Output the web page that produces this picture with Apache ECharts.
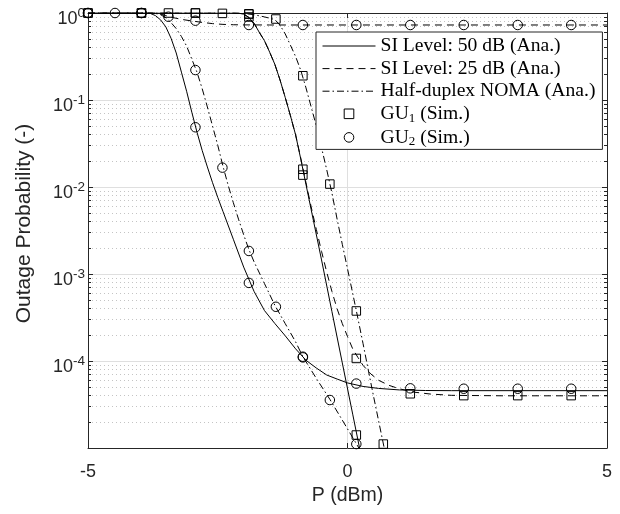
<!DOCTYPE html>
<html>
<head>
<meta charset="utf-8">
<script src="https://cdn.jsdelivr.net/npm/echarts@6/dist/echarts.min.js"></script>
<style>
html,body{margin:0;padding:0;background:#fff;}
#chart{width:620px;height:514px;}
</style>
</head>
<body>
<div id="chart"></div>
<script>
// ---------------- data ----------------
const xMin = -5, xMax = 5, xInterval = 5;
const yMin = 1e-5, yMax = 1;
const minorMultipliers = [2, 3, 4, 5, 6, 7, 8, 9];
const decadeExponents = [-5, -4, -3, -2, -1];

const legendNames = ['SI Level: 50 dB (Ana.)', 'SI Level: 25 dB (Ana.)', 'Half-duplex NOMA (Ana.)', 'GU1 (Sim.)', 'GU2 (Sim.)'];

// Analytical curves
const si50Gu2X = [-5,-4,-3.8,-3.7,-3.6,-3.5,-3.4,-3.3,-3.2,-3.1,-3.0,-2.9,-2.8,-2.7,-2.6,-2.5,-2.4,-2.2,-2.0,-1.8,-1.6,-1.4,-1.2,-1.0,-0.8,-0.6,-0.4,-0.2,0,0.3,0.6,1.0,1.5,2.0,5];
const si50Gu2Y = [1,1,0.989,0.933,0.832,0.692,0.513,0.347,0.209,0.126,0.0724,0.0427,0.0263,0.0170,0.0112,0.00759,0.00525,0.00251,0.00120,6.3e-4,3.8e-4,2.7e-4,1.95e-4,1.38e-4,1.02e-4,8.3e-5,6.9e-5,6.2e-5,5.6e-5,5.1e-5,4.84e-5,4.65e-5,4.58e-5,4.56e-5,4.56e-5];

const si50Gu1X = [-5,-2.2,-2.1,-2.0,-1.9,-1.8,-1.7,-1.6,-1.5,-1.4,-1.3,-1.2,-1.1,-1.0,-0.9,-0.8,-0.7,-0.5,-0.3,-0.1,0.1,0.3];
const si50Gu1Y = [1,1,0.995,0.97,0.89,0.76,0.60,0.48,0.355,0.257,0.170,0.107,0.0661,0.0398,0.0209,0.0107,5.5e-3,1.45e-3,3.7e-4,9.5e-5,2.45e-5,6.3e-6];

const si25Gu1X = [-5,-2.2,-2.1,-2.0,-1.9,-1.8,-1.7,-1.6,-1.5,-1.4,-1.3,-1.2,-1.1,-1.0,-0.9,-0.8,-0.7,-0.6,-0.5,-0.4,-0.3,-0.2,-0.1,0,0.1,0.2,0.3,0.45,0.6,0.8,1.0,1.3,1.6,2.0,3.0,5];
const si25Gu1Y = [1,1,0.995,0.97,0.89,0.76,0.60,0.48,0.355,0.257,0.170,0.107,0.0661,0.0398,0.0214,0.0112,5.9e-3,3.24e-3,1.82e-3,1.05e-3,6.3e-4,3.98e-4,2.69e-4,1.91e-4,1.38e-4,1.10e-4,8.9e-5,7.1e-5,6.0e-5,5.25e-5,4.79e-5,4.37e-5,4.17e-5,4.03e-5,3.98e-5,3.98e-5];

const si25Gu2X = [-5,-3.8,-3.7,-3.6,-3.5,-3.4,-3.2,-3.0,-2.8,-2.6,-2.4,-2.2,-2.0,-1.5,5];
const si25Gu2Y = [1,1,0.99,0.97,0.935,0.895,0.845,0.81,0.78,0.755,0.74,0.733,0.73,0.728,0.728];

const hdGu2X = [-5,-3.8,-3.7,-3.6,-3.5,-3.4,-3.3,-3.2,-3.1,-3.0,-2.9,-2.8,-2.7,-2.6,-2.5,-2.4,-2.3,-2.2,-2.1,-2.0,-1.9,-1.8,-1.6,-1.4,-1.2,-1.0,-0.86,-0.6,-0.34,0,0.17,0.3];
const hdGu2Y = [1,1,0.989,0.955,0.881,0.776,0.661,0.537,0.417,0.295,0.209,0.135,0.0832,0.0501,0.0302,0.0174,0.0105,0.00661,0.00427,0.00282,0.00191,0.00138,7.76e-4,4.37e-4,2.69e-4,1.66e-4,1.12e-4,6.3e-5,3.63e-5,1.66e-5,1.12e-5,8.3e-6];

const hdGu1X = [-5,-2.2,-2.0,-1.8,-1.6,-1.5,-1.4,-1.3,-1.2,-1.1,-1.0,-0.9,-0.8,-0.7,-0.6,-0.5,-0.4,-0.3,-0.2,-0.1,0,0.1,0.2,0.3,0.4,0.5,0.6,0.7,0.8];
const hdGu1Y = [1,1,0.989,0.955,0.902,0.871,0.841,0.724,0.575,0.427,0.316,0.219,0.138,0.0832,0.0501,0.0282,0.0158,8.5e-3,4.27e-3,2.19e-3,1.15e-3,6.0e-4,3.1e-4,1.58e-4,7.9e-5,3.98e-5,2.04e-5,1.05e-5,5.2e-6];

// Simulation markers
const si50Gu1SimX = [-5,-3.97,-2.93,-1.9,-0.86,0.17];
const si50Gu1SimY = [1,1,1,0.97,0.0137,1.41e-5];
const si25Gu1SimX = [-5,-3.97,-2.93,-1.9,-0.86,0.17,1.21,2.24,3.28,4.31];
const si25Gu1SimY = [1,1,1,0.9,0.016,1.07e-4,4.2e-5,4.0e-5,4.0e-5,4.0e-5];
const hdGu1SimX = [-3.45,-2.41,-1.9,-1.38,-0.86,-0.34,0.17,0.69];
const hdGu1SimY = [1,0.99,0.98,0.853,0.19,0.0108,3.76e-4,1.11e-5];

const si50Gu2SimX = [-5,-3.97,-2.93,-1.9,-0.86,0.17,1.21,2.24,3.28,4.31];
const si50Gu2SimY = [1,1,0.0486,7.9e-4,1.1e-4,5.5e-5,4.85e-5,4.8e-5,4.8e-5,4.8e-5];
const si25Gu2SimX = [-5,-3.97,-2.93,-1.9,-0.86,0.17,1.21,2.24,3.28,4.31];
const si25Gu2SimY = [1,1,0.816,0.728,0.728,0.728,0.728,0.728,0.728,0.728];
const hdGu2SimX = [-4.48,-3.45,-2.93,-2.41,-1.9,-1.38,-0.86,-0.34,0.17];
const hdGu2SimY = [1,0.906,0.221,0.0167,1.84e-3,4.2e-4,1.12e-4,3.56e-5,1.11e-5];

// ---------------- styling ----------------
const SANS = 'Liberation Sans';
const SERIF = 'Liberation Serif';
const INK = '#262626';
const DASH = [7, 5];
const DASHDOT = [7, 3, 1.5, 3];

function pairs(xs, ys) { return xs.map((x, i) => [x, ys[i]]); }

// minor tick positions in log10 space (auxiliary linear axis)
const minorLogPositions = [];
decadeExponents.forEach(e => minorMultipliers.forEach(m => minorLogPositions.push(e + Math.log10(m))));

function curve(name, xs, ys, dash) {
  return {
    type: 'line', name, data: pairs(xs, ys), xAxisIndex: 0, yAxisIndex: 0,
    symbol: 'none', silent: true, z: 3,
    lineStyle: { color: '#000', width: 1, type: dash },
    itemStyle: { color: '#000' }
  };
}
function marks(name, xs, ys, sym, size) {
  return {
    type: 'line', name, data: pairs(xs, ys), xAxisIndex: 0, yAxisIndex: 0,
    symbol: sym, symbolSize: size, showSymbol: true, showAllSymbol: true, silent: true, z: 4,
    lineStyle: { width: 0, color: 'rgba(0,0,0,0)' },
    itemStyle: { color: 'rgba(0,0,0,0)', borderColor: '#000', borderWidth: 1 }
  };
}

const series = [
  curve(legendNames[0], si50Gu1X, si50Gu1Y, 'solid'),
  curve(legendNames[0], si50Gu2X, si50Gu2Y, 'solid'),
  curve(legendNames[1], si25Gu1X, si25Gu1Y, DASH),
  curve(legendNames[1], si25Gu2X, si25Gu2Y, DASH),
  curve(legendNames[2], hdGu1X, hdGu1Y, DASHDOT),
  curve(legendNames[2], hdGu2X, hdGu2Y, DASHDOT),
  marks(legendNames[3], si50Gu1SimX, si50Gu1SimY, 'rect', 8.5),
  marks(legendNames[3], si25Gu1SimX, si25Gu1SimY, 'rect', 8.5),
  marks(legendNames[3], hdGu1SimX, hdGu1SimY, 'rect', 8.5),
  marks(legendNames[4], si50Gu2SimX, si50Gu2SimY, 'circle', 9.5),
  marks(legendNames[4], si25Gu2SimX, si25Gu2SimY, 'circle', 9.5),
  marks(legendNames[4], hdGu2SimX, hdGu2SimY, 'circle', 9.5)
];

const lineLegendItem = (name, type) => ({
  name,
  itemStyle: { opacity: 0, color: 'rgba(0,0,0,0)', borderWidth: 0 },
  lineStyle: { color: '#000', width: 1, type: type, opacity: 1 }
});
const markLegendItem = (name) => ({
  name,
  itemStyle: { color: 'rgba(0,0,0,0)', borderColor: '#000', borderWidth: 1, opacity: 1 },
  lineStyle: { color: 'rgba(0,0,0,0)', width: 0, opacity: 0 }
});

const chart = echarts.init(document.getElementById('chart'), null, { renderer: 'canvas' });
chart.setOption({
  animation: false,
  backgroundColor: '#fff',
  color: ['#000'],
  grid: { left: 88, right: 13, top: 13, bottom: 66, containLabel: false },
  legend: {
    orient: 'vertical', left: 316, top: 32, z: 10,
    data: [
      lineLegendItem(legendNames[0], 'solid'),
      lineLegendItem(legendNames[1], DASH),
      lineLegendItem(legendNames[2], DASHDOT),
      markLegendItem(legendNames[3]),
      markLegendItem(legendNames[4])
    ],
    selectedMode: false,
    backgroundColor: '#fff', borderColor: INK, borderWidth: 1, borderRadius: 0,
    padding: [4, 7, 1, 6],
    itemWidth: 53, itemHeight: 12, itemGap: 2.6,
    textStyle: {
      fontFamily: SERIF, fontSize: 19.6, color: '#000', lineHeight: 20,
      rich: {
        n: { fontFamily: SERIF, fontSize: 19.6, lineHeight: 20, color: '#000' },
        sub: { fontFamily: SERIF, fontSize: 13, lineHeight: 12, padding: [8, 0, 0, 0], verticalAlign: 'top', color: '#000' }
      }
    },
    formatter: n => {
      const m = n.match(/^GU(\d)(.*)$/);
      return m ? '{n|GU}{sub|' + m[1] + '}{n|' + m[2] + '}' : n;
    }
  },
  xAxis: [
    {
      type: 'value', min: xMin, max: xMax, interval: xInterval, position: 'bottom',
      name: 'P (dBm)', nameLocation: 'middle', nameGap: 38,
      nameTextStyle: { fontFamily: SANS, fontSize: 19.5, color: INK },
      axisLine: { show: true, onZero: false, lineStyle: { color: INK, width: 1 } },
      axisTick: { show: true, inside: true, length: 5, lineStyle: { color: INK } },
      axisLabel: { fontFamily: SANS, fontSize: 18, color: INK, margin: 15 },
      splitLine: { show: true, lineStyle: { color: '#dfdfdf', width: 1 } }
    },
    {
      type: 'value', min: xMin, max: xMax, interval: xInterval, position: 'top',
      axisLine: { show: true, onZero: false, lineStyle: { color: INK, width: 1 } },
      axisTick: { show: true, inside: true, length: 5, lineStyle: { color: INK } },
      axisLabel: { show: false }, splitLine: { show: false }
    }
  ],
  yAxis: [
    {
      type: 'log', logBase: 10, min: yMin, max: yMax, position: 'left',
      name: 'Outage Probability (-)', nameLocation: 'middle', nameGap: 53,
      nameTextStyle: { fontFamily: SANS, fontSize: 21, color: INK, padding: [0, 0, 0, 14] },
      axisLine: { show: true, onZero: false, lineStyle: { color: INK, width: 1 } },
      axisTick: { show: true, inside: true, length: 5, lineStyle: { color: INK } },
      axisLabel: {
        margin: 3, color: INK,
        formatter: v => {
          const e = Math.round(Math.log10(v));
          if (e === -5) return '';
          return '{b|10}{s|' + e + '}';
        },
        rich: {
          b: { fontFamily: SANS, fontSize: 18, color: INK, lineHeight: 18, padding: [6, 0, 0, 0], verticalAlign: 'top' },
          s: { fontFamily: SANS, fontSize: 13.5, color: INK, lineHeight: 13.5, padding: [2, 0, 0, 0], verticalAlign: 'top' }
        }
      },
      splitLine: { show: true, lineStyle: { color: '#dfdfdf', width: 1 } }
    },
    {
      type: 'log', logBase: 10, min: yMin, max: yMax, position: 'right',
      axisLine: { show: true, onZero: false, lineStyle: { color: INK, width: 1 } },
      axisTick: { show: true, inside: true, length: 5, lineStyle: { color: INK } },
      axisLabel: { show: false }, splitLine: { show: false }
    },
    {
      type: 'value', min: Math.log10(yMin), max: Math.log10(yMax), position: 'left',
      axisLine: { show: false, onZero: false },
      axisTick: { show: true, inside: true, length: 3, customValues: minorLogPositions, lineStyle: { color: INK } },
      axisLabel: { show: false },
      splitLine: { show: true, lineStyle: { color: '#c4c4c4', width: 1, type: [1, 3] } }
    },
    {
      type: 'value', min: Math.log10(yMin), max: Math.log10(yMax), position: 'right',
      axisLine: { show: false, onZero: false },
      axisTick: { show: true, inside: true, length: 3, customValues: minorLogPositions, lineStyle: { color: INK } },
      axisLabel: { show: false },
      splitLine: { show: false }
    }
  ],
  series
});
</script>
</body>
</html>
